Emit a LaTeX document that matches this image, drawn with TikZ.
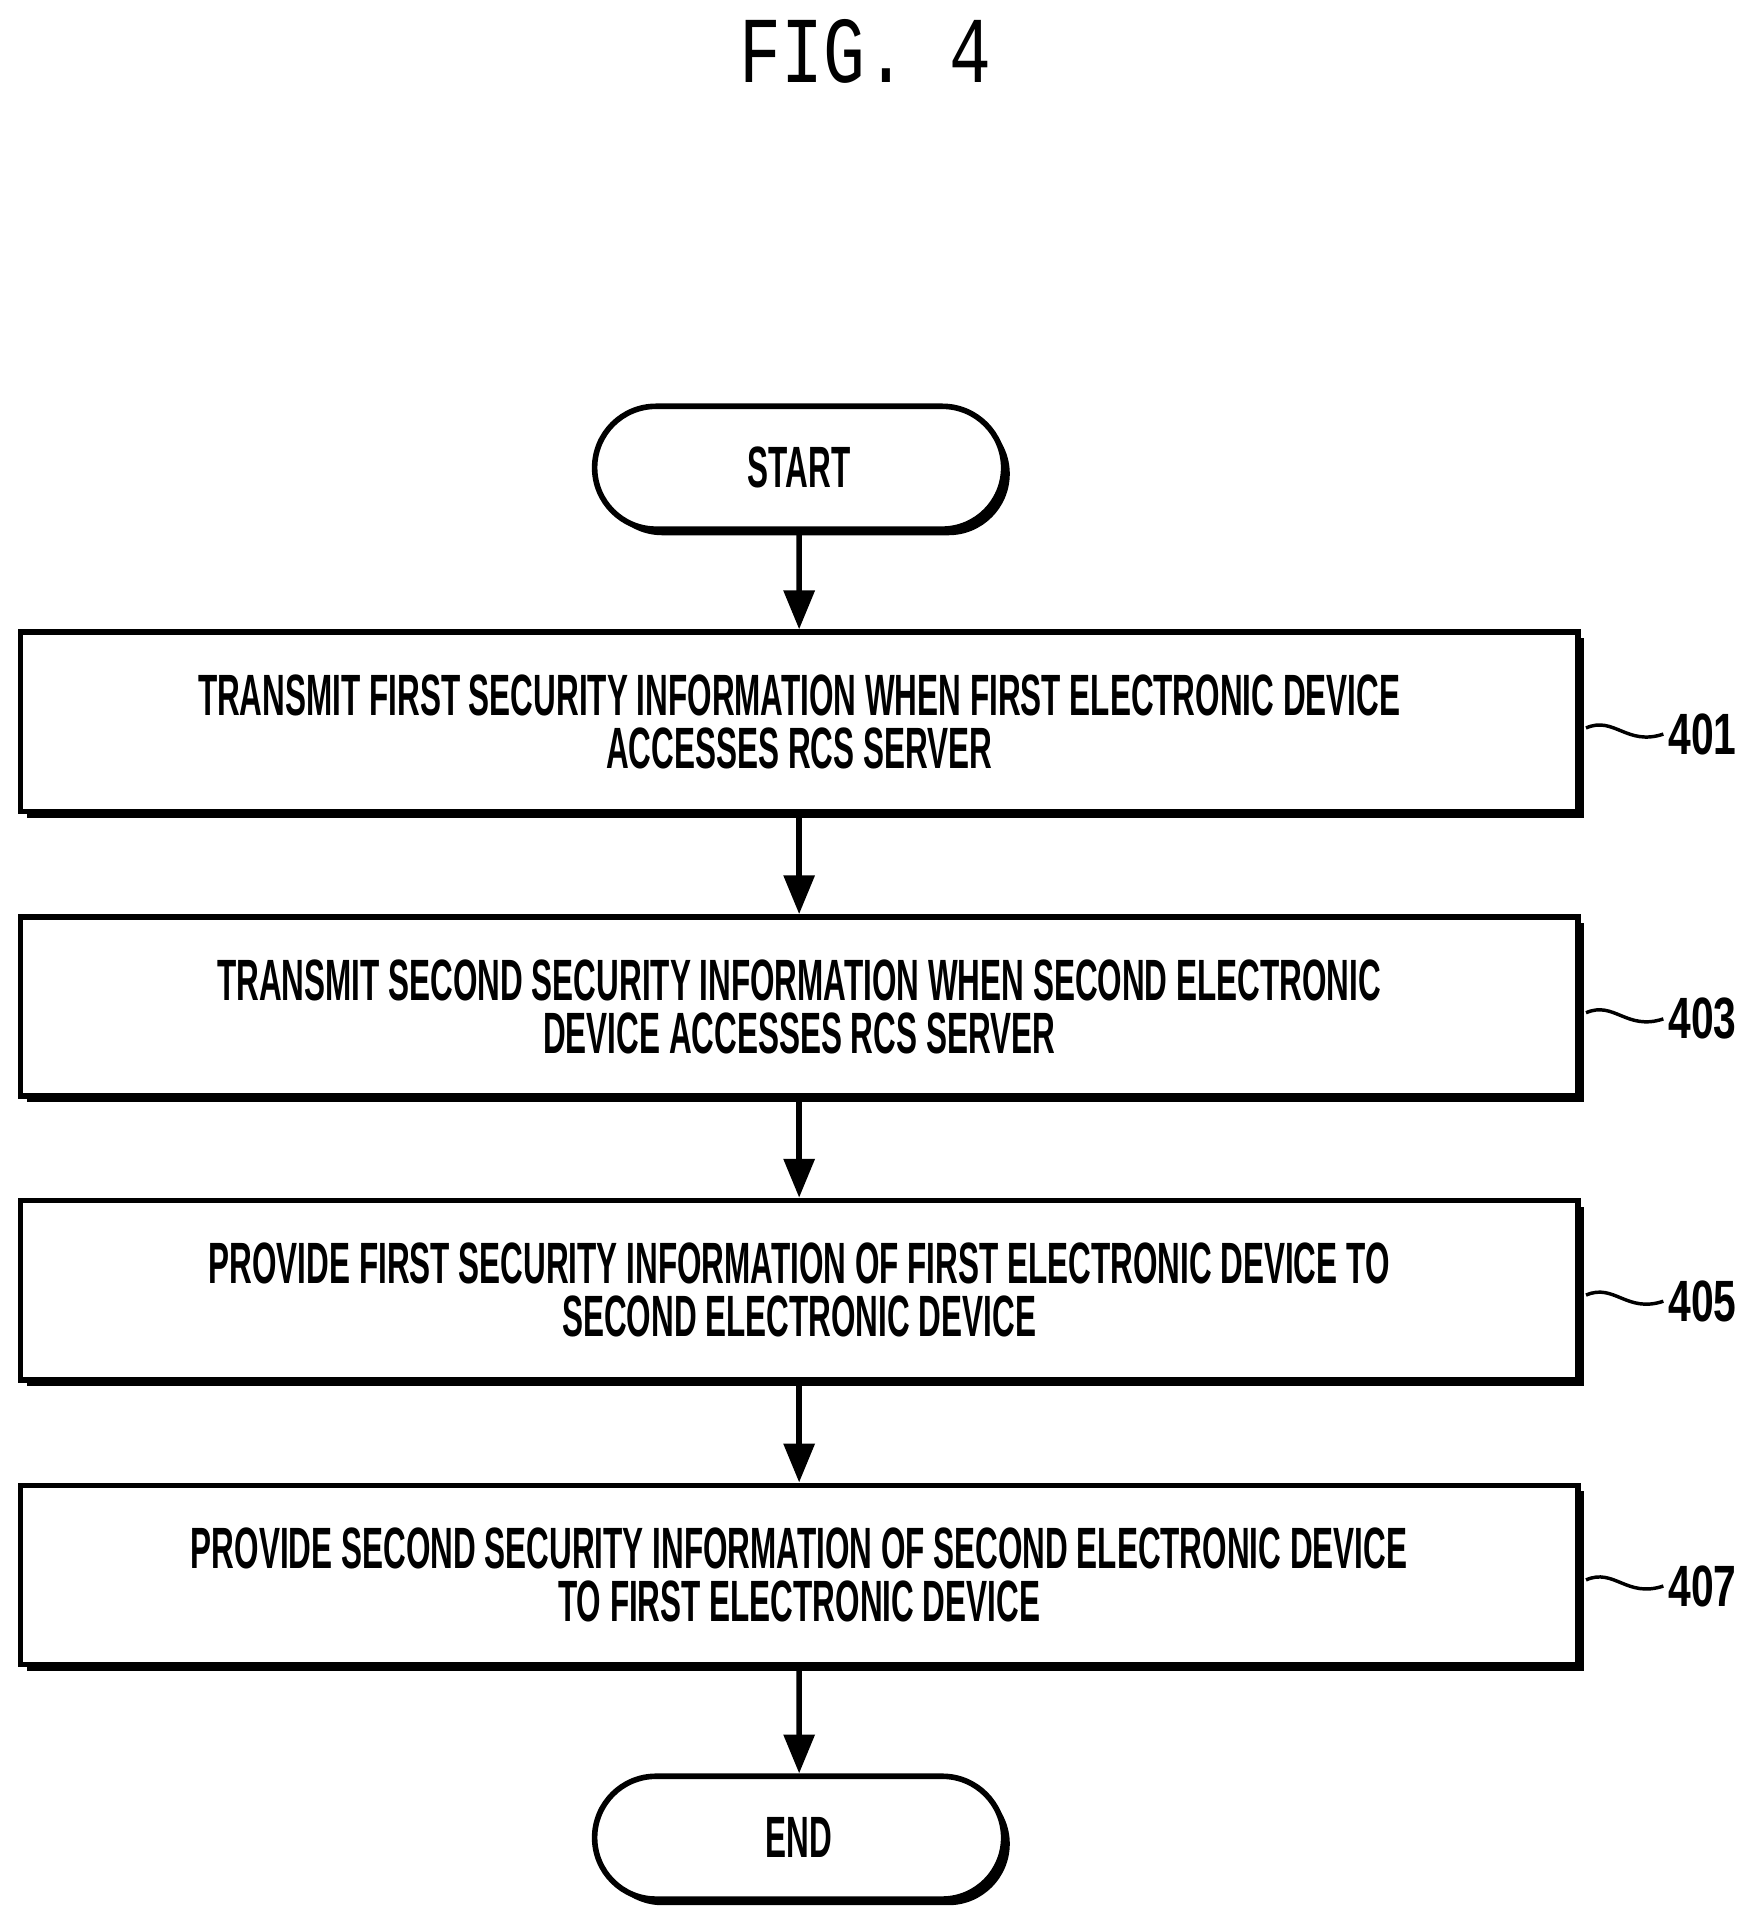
\documentclass[tikz,border=0pt]{standalone}
\usepackage{fontspec}
\setmainfont{Liberation Sans}
\newfontfamily\titlefont{Liberation Mono}
\usetikzlibrary{arrows.meta,shapes.misc}
\newcommand{\nar}[1]{\scalebox{0.54}[1]{#1}}
\begin{document}
\begin{tikzpicture}[x=0.01cm,y=-0.01cm,
  box/.style={draw,line width=1.3pt,fill=white,minimum width=12.68cm,minimum height=1.46cm,inner sep=0pt,align=center,font=\bfseries\fontsize{13.5}{12.3}\selectfont,
    preaction={fill=black,transform canvas={xshift=0.5mm,yshift=-0.5mm}}},
  term/.style={draw,line width=1.3pt,fill=white,rounded rectangle,minimum width=3.33cm,minimum height=1.0cm,inner sep=0pt,font=\bfseries\fontsize{13.5}{12.3}\selectfont,
    preaction={fill=black,transform canvas={xshift=0.5mm,yshift=-0.5mm}}},
  arr/.style={line width=1.3pt,-{Triangle[length=9pt,width=7pt]}},
  lab/.style={font=\bfseries\fontsize{13.5}{16}\selectfont,anchor=west,inner sep=1pt},
  tl/.style={line width=0.8pt}]
\useasboundingbox (0,0) rectangle (1420,1560);
\node[font=\titlefont\fontsize{19}{22}\selectfont] (title) at (705,42) {\scalebox{0.85}[1.15]{FIG. 4}};
\node[term] (start) at (651,381) {\nar{START}};
\node[box] (b1) at (651,588) {\nar{TRANSMIT FIRST SECURITY INFORMATION WHEN FIRST ELECTRONIC DEVICE}\\\nar{ACCESSES RCS SERVER}};
\node[box] (b2) at (651,820) {\nar{TRANSMIT SECOND SECURITY INFORMATION WHEN SECOND ELECTRONIC}\\\nar{DEVICE ACCESSES RCS SERVER}};
\node[box] (b3) at (651,1051) {\nar{PROVIDE FIRST SECURITY INFORMATION OF FIRST ELECTRONIC DEVICE TO}\\\nar{SECOND ELECTRONIC DEVICE}};
\node[box] (b4) at (651,1283) {\nar{PROVIDE SECOND SECURITY INFORMATION OF SECOND ELECTRONIC DEVICE}\\\nar{TO FIRST ELECTRONIC DEVICE}};
\node[term] (end) at (651,1497) {\nar{END}};
\draw[arr] (start) -- (b1);
\draw[arr] (b1) -- (b2);
\draw[arr] (b2) -- (b3);
\draw[arr] (b3) -- (b4);
\draw[arr] (b4) -- (end);
\foreach \b/\t/\y in {b1/401/598,b2/403/830,b3/405/1060,b4/407/1292}{
  \node[lab] (l\t) at (1355,\y) {\scalebox{0.7}[1]{\t}};
  \draw[tl] (1292,\y-5) .. controls (1315,\y-15) and (1325,\y+10) .. (l\t.west);
}
\end{tikzpicture}
\end{document}
